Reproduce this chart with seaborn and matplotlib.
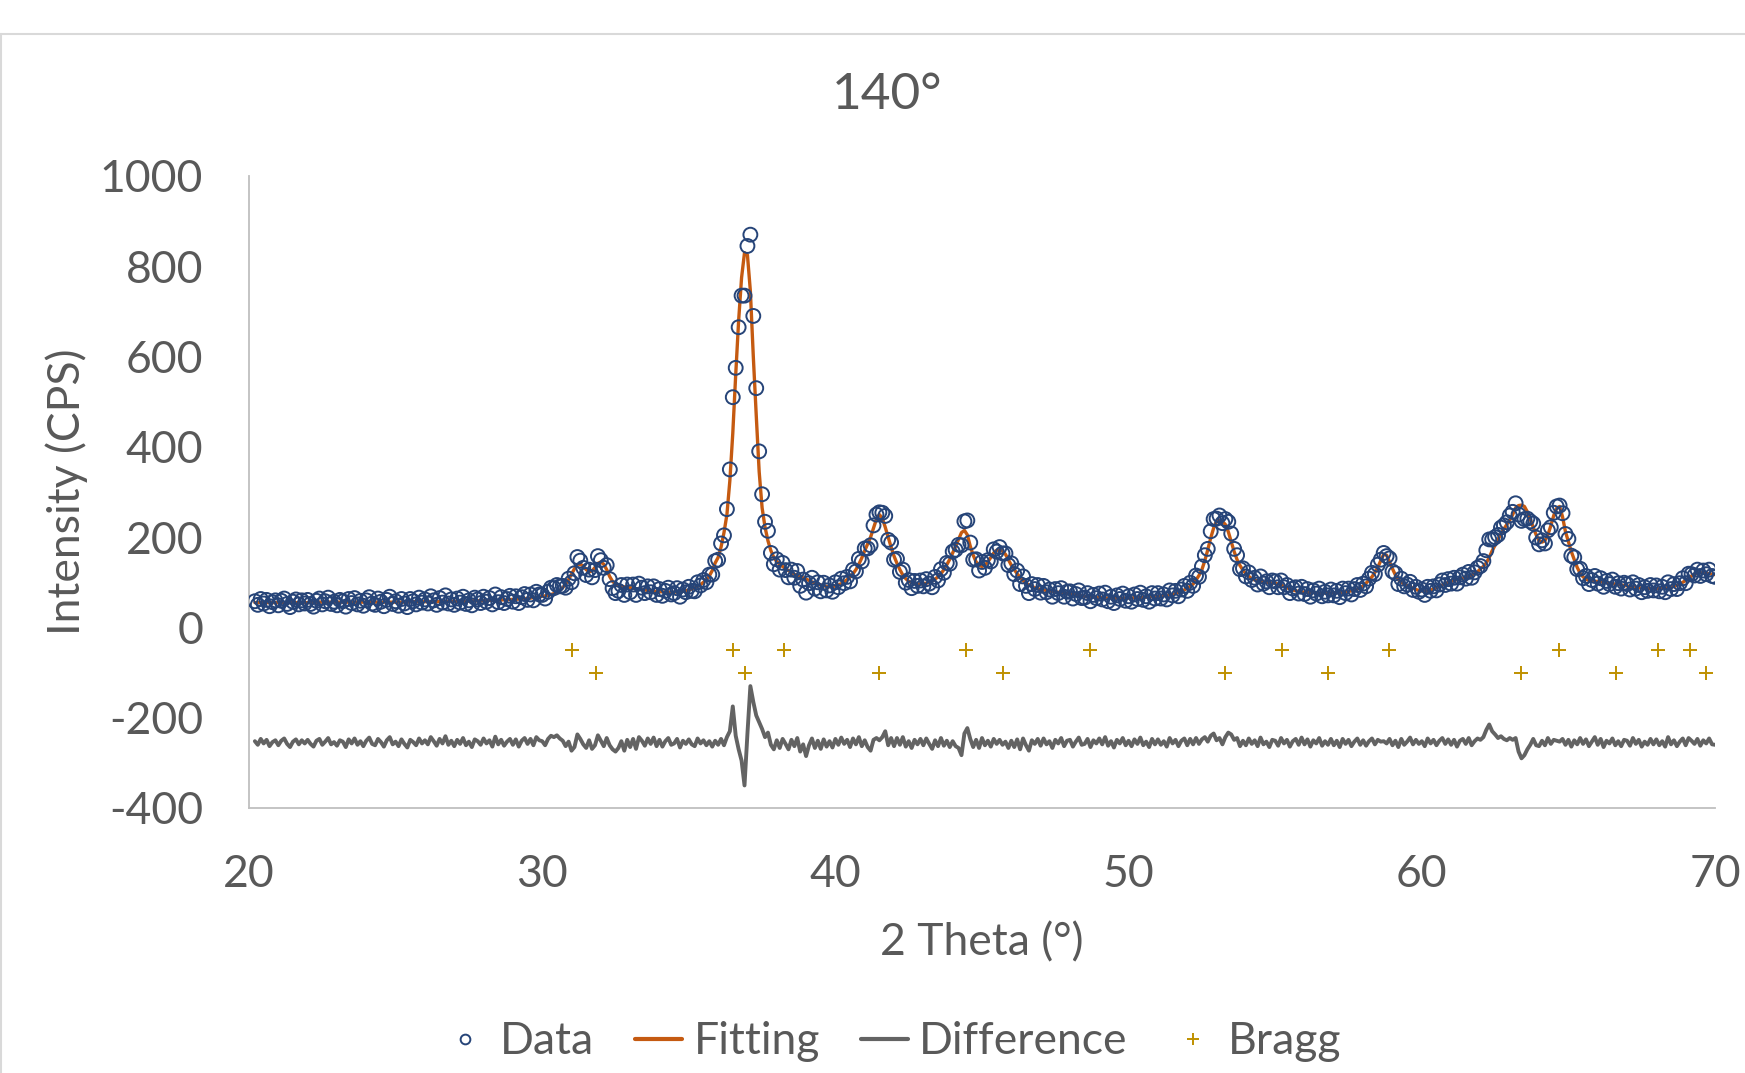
import numpy as np
import pandas as pd
import matplotlib
matplotlib.use("Agg")
import matplotlib.pyplot as plt
import seaborn as sns
from matplotlib.lines import Line2D

# ---------------- data ----------------
theta_start = 20.2
theta_step = 0.1

intensity_obs = [
    58, 50, 63, 53, 61, 47, 56, 60,
    49, 59, 64, 52, 45, 57, 62, 51, 60, 53,
    61, 52, 46, 59, 64, 51, 58, 66, 52, 57,
    49, 61, 58, 46, 63, 54, 65, 51, 59, 48,
    60, 67, 53, 50, 64, 57, 47, 61, 68, 52,
    58, 48, 63, 53, 45, 63, 58, 51, 66, 55,
    62, 53, 69, 60, 50, 65, 55, 71, 53, 62,
    50, 64, 55, 68, 52, 60, 49, 66, 62, 54,
    68, 57, 65, 51, 73, 56, 67, 54, 63, 70,
    57, 69, 54, 67, 74, 61, 73, 60, 79, 73,
    72, 64, 79, 88, 87, 94, 91, 92, 88, 108,
    100, 120, 156, 148, 132, 116, 128, 111, 127, 158,
    149, 132, 138, 107, 87, 76, 81, 94, 72, 95,
    78, 95, 72, 97, 88, 76, 91, 78, 91, 72,
    85, 70, 81, 88, 73, 76, 87, 68, 84, 78,
    90, 81, 80, 100, 93, 105, 100, 117, 117, 147,
    150, 186, 204, 262, 350, 510, 575, 665, 735, 735,
    845, 870, 690, 530, 390, 295, 234, 214, 165, 140,
    151, 128, 143, 127, 111, 128, 110, 125, 92, 106,
    77, 98, 110, 86, 100, 80, 99, 82, 93, 79,
    100, 89, 108, 98, 112, 102, 128, 124, 152, 146,
    175, 175, 182, 226, 250, 255, 254, 247, 194, 188,
    150, 152, 123, 128, 99, 105, 87, 103, 92, 104,
    91, 107, 97, 89, 112, 104, 129, 121, 143, 141,
    168, 172, 183, 182, 235, 237, 188, 150, 151, 126,
    145, 132, 149, 146, 173, 168, 178, 164, 164, 138,
    142, 118, 126, 96, 113, 92, 76, 96, 85, 94,
    77, 92, 78, 84, 68, 85, 76, 87, 68, 79,
    80, 64, 74, 82, 65, 66, 76, 58, 72, 65,
    75, 62, 77, 58, 68, 54, 71, 63, 75, 59,
    69, 57, 73, 63, 77, 61, 69, 57, 76, 64,
    76, 64, 73, 62, 82, 71, 81, 69, 84, 92,
    81, 99, 92, 115, 112, 135, 160, 174, 213, 240,
    241, 248, 231, 240, 234, 208, 174, 160, 129, 131,
    113, 122, 105, 110, 95, 113, 97, 102, 89, 104,
    102, 89, 104, 89, 94, 76, 86, 89, 75, 90,
    74, 85, 68, 82, 75, 86, 69, 79, 71, 84,
    71, 81, 67, 86, 76, 86, 73, 85, 94, 83,
    97, 91, 108, 121, 118, 139, 150, 165, 158, 153,
    124, 120, 96, 108, 91, 95, 101, 83, 90, 79,
    84, 72, 90, 81, 91, 82, 95, 104, 94, 107,
    97, 110, 97, 111, 117, 108, 123, 110, 122, 132,
    136, 147, 171, 195, 195, 200, 205, 221, 226, 233,
    248, 256, 275, 250, 236, 240, 241, 235, 230, 199,
    184, 193, 186, 215, 222, 254, 268, 270, 253, 207,
    196, 159, 155, 129, 130, 109, 114, 96, 105, 114,
    97, 109, 90, 103, 96, 106, 90, 98, 86, 99,
    96, 84, 100, 86, 94, 78, 89, 81, 94, 82,
    93, 80, 90, 78, 100, 85, 96, 85, 98, 109,
    98, 119, 118, 115, 128, 114, 126, 118, 128, 114,
    112,
]

intensity_fit = [
    55, 55, 55, 55, 55, 55, 55, 55,
    55, 55, 55, 55, 55, 55, 55, 55, 55, 55,
    55, 55, 55, 55, 56, 56, 56, 56, 56, 56,
    56, 56, 56, 56, 56, 56, 56, 56, 56, 56,
    56, 56, 56, 56, 56, 56, 56, 56, 56, 56,
    56, 56, 56, 56, 56, 57, 57, 57, 57, 57,
    57, 57, 57, 57, 57, 57, 57, 57, 58, 58,
    58, 58, 58, 58, 58, 58, 59, 59, 59, 59,
    59, 59, 60, 60, 60, 60, 61, 61, 61, 62,
    62, 62, 63, 63, 64, 64, 65, 66, 67, 68,
    69, 70, 71, 73, 75, 78, 82, 88, 96, 106,
    118, 130, 138, 140, 136, 128, 123, 125, 133, 142,
    145, 140, 128, 113, 102, 96, 93, 91, 90, 89,
    88, 87, 86, 85, 84, 83, 82, 81, 80, 80,
    79, 79, 78, 78, 78, 78, 79, 79, 80, 81,
    83, 85, 88, 91, 95, 100, 106, 114, 126, 143,
    155, 178, 210, 250, 325, 430, 560, 680, 775, 830,
    825, 745, 600, 470, 345, 265, 222, 192, 170, 155,
    146, 140, 135, 130, 126, 122, 118, 115, 112, 110,
    107, 104, 101, 98, 96, 94, 92, 91, 90, 90,
    92, 94, 97, 101, 106, 112, 119, 128, 140, 154,
    170, 185, 200, 220, 240, 250, 242, 222, 200, 178,
    158, 142, 128, 116, 108, 102, 99, 97, 96, 96,
    97, 98, 100, 103, 107, 112, 119, 128, 139, 151,
    165, 180, 195, 210, 215, 205, 180, 160, 145, 138,
    135, 138, 145, 155, 165, 171, 172, 169, 162, 150,
    138, 128, 119, 111, 104, 98, 94, 91, 88, 86,
    84, 83, 82, 81, 80, 79, 78, 77, 76, 75,
    74, 73, 72, 71, 70, 69, 68, 68, 67, 67,
    66, 66, 65, 65, 65, 65, 65, 65, 65, 65,
    65, 65, 66, 66, 66, 67, 67, 67, 68, 68,
    69, 69, 70, 71, 72, 73, 75, 77, 80, 83,
    87, 91, 96, 105, 115, 128, 148, 172, 198, 220,
    236, 238, 235, 228, 212, 190, 168, 150, 137, 127,
    119, 113, 108, 105, 103, 102, 101, 100, 99, 98,
    98, 96, 94, 91, 88, 85, 83, 81, 80, 79,
    78, 78, 77, 77, 77, 76, 76, 76, 76, 76,
    77, 77, 77, 78, 79, 80, 81, 83, 85, 88,
    92, 98, 105, 112, 122, 133, 148, 162, 160, 145,
    130, 116, 106, 100, 96, 93, 90, 87, 84, 82,
    81, 80, 81, 83, 85, 88, 91, 94, 97, 100,
    102, 104, 106, 107, 109, 111, 113, 116, 119, 123,
    130, 135, 143, 155, 170, 182, 195, 207, 218, 228,
    238, 250, 265, 270, 271, 268, 256, 240, 222, 205,
    192, 189, 192, 205, 225, 248, 264, 268, 245, 212,
    190, 168, 150, 133, 120, 112, 107, 104, 103, 102,
    102, 101, 100, 99, 98, 97, 96, 95, 94, 93,
    92, 91, 90, 89, 88, 87, 87, 86, 86, 86,
    86, 86, 87, 87, 88, 89, 91, 93, 96, 100,
    104, 109, 114, 118, 120, 121, 121, 120, 119, 118,
    117,
]

difference_offset = -255

bragg_row1_pos = [31.01, 36.51, 38.26, 44.45, 48.70, 55.23, 58.88, 64.68, 68.06, 69.16]
bragg_row2_pos = [31.85, 36.93, 41.49, 45.70, 53.30, 56.79, 63.39, 66.62, 69.70]
bragg_row1_level = -50
bragg_row2_level = -100

x_ticks = [20, 30, 40, 50, 60, 70]
y_ticks = [-400, -200, 0, 200, 400, 600, 800, 1000]
title_text = "140°"
x_label = "2 Theta (°)"
y_label = "Intensity (CPS)"
legend_labels = ["Data", "Fitting", "Difference", "Bragg"]

# ---------------- styling ----------------
data_color = "#264478"
fit_color = "#C55A11"
diff_color = "#636363"
bragg_color = "#BF9000"
text_color = "#595959"
axis_color = "#BFBFBF"

sns.set_theme(style="white")
plt.rcParams["font.family"] = ["Lato", "DejaVu Sans"]
plt.rcParams["axes.unicode_minus"] = False

W, H = 1745, 1073
fig = plt.figure(figsize=(W / 100, H / 100), dpi=100)
fig.patch.set_facecolor("white")
ax = fig.add_axes([249 / W, 1 - 808 / H, 1466 / W, 632 / H])

n = len(intensity_obs)
two_theta = np.round(theta_start + theta_step * np.arange(n), 2)
obs = np.array(intensity_obs, dtype=float)
fit = np.array(intensity_fit, dtype=float)
df = pd.DataFrame({"two_theta": two_theta, "obs": obs, "fit": fit,
                   "diff": obs - fit + difference_offset})

bragg_df = pd.DataFrame({
    "pos": bragg_row1_pos + bragg_row2_pos,
    "level": [bragg_row1_level] * len(bragg_row1_pos) + [bragg_row2_level] * len(bragg_row2_pos),
})

# Fitting line (under the markers)
sns.lineplot(data=df, x="two_theta", y="fit", ax=ax, color=fit_color,
             linewidth=2.4, estimator=None, sort=False, zorder=2)
# Data markers (hollow circles)
sns.scatterplot(data=df, x="two_theta", y="obs", ax=ax, marker="o", s=100, zorder=3)
pts = ax.collections[-1]
pts.set_facecolor("none")
pts.set_edgecolor(data_color)
pts.set_linewidth(1.4)
# Difference line
sns.lineplot(data=df, x="two_theta", y="diff", ax=ax, color=diff_color,
             linewidth=2.8, estimator=None, sort=False, zorder=2)
# Bragg positions
sns.scatterplot(data=bragg_df, x="pos", y="level", ax=ax, marker="+", s=95, zorder=3)
bp = ax.collections[-1]
bp.set_edgecolor(bragg_color)
bp.set_facecolor(bragg_color)
bp.set_linewidth(1.4)

ax.set_xlim(20, 70)
ax.set_ylim(-400, 1000)
ax.set_xticks(x_ticks)
ax.set_yticks(y_ticks)
ax.set_xticklabels([str(t) for t in x_ticks])
ax.set_yticklabels([str(t) for t in y_ticks])
ax.set_xlabel("")
ax.set_ylabel("")
ax.grid(False)
for side in ["top", "right"]:
    ax.spines[side].set_visible(False)
for side in ["left", "bottom"]:
    ax.spines[side].set_color(axis_color)
    ax.spines[side].set_linewidth(1.3)
ax.tick_params(axis="both", length=0, labelsize=32, labelcolor=text_color)
ax.tick_params(axis="x", pad=33)
ax.tick_params(axis="y", pad=33)

fig.text(887 / W, 1 - 95 / H, title_text, ha="center", va="center",
         fontsize=37, color=text_color)
fig.text(982 / W, 1 - 943 / H, x_label, ha="center", va="center",
         fontsize=32, color=text_color)
fig.text(67 / W, 1 - 492 / H, y_label, ha="center", va="center",
         rotation=90, fontsize=32, color=text_color)

handles = [
    Line2D([], [], marker="o", linestyle="none", markerfacecolor="none",
           markeredgecolor=data_color, markersize=7, markeredgewidth=1.4),
    Line2D([], [], color=fit_color, linewidth=3),
    Line2D([], [], color=diff_color, linewidth=3),
    Line2D([], [], marker="+", linestyle="none", color=bragg_color,
           markersize=8, markeredgewidth=1.4),
]
fig.legend(handles, legend_labels, loc="center", bbox_to_anchor=(891 / W, 1 - 1042 / H),
           ncol=4, frameon=False, fontsize=32, handlelength=1.07,
           handletextpad=0.25, columnspacing=0.92, labelcolor=text_color,
           borderaxespad=0, borderpad=0)

# chart-area border (top and left edges visible)
fig.add_artist(Line2D([0, 1], [1 - 34 / H, 1 - 34 / H], transform=fig.transFigure,
                      color="#D9D9D9", linewidth=1.5))
fig.add_artist(Line2D([0.6 / W, 0.6 / W], [0, 1 - 34 / H], transform=fig.transFigure,
                      color="#D9D9D9", linewidth=1.5))

fig.savefig("out.png", dpi=100, facecolor="white")
